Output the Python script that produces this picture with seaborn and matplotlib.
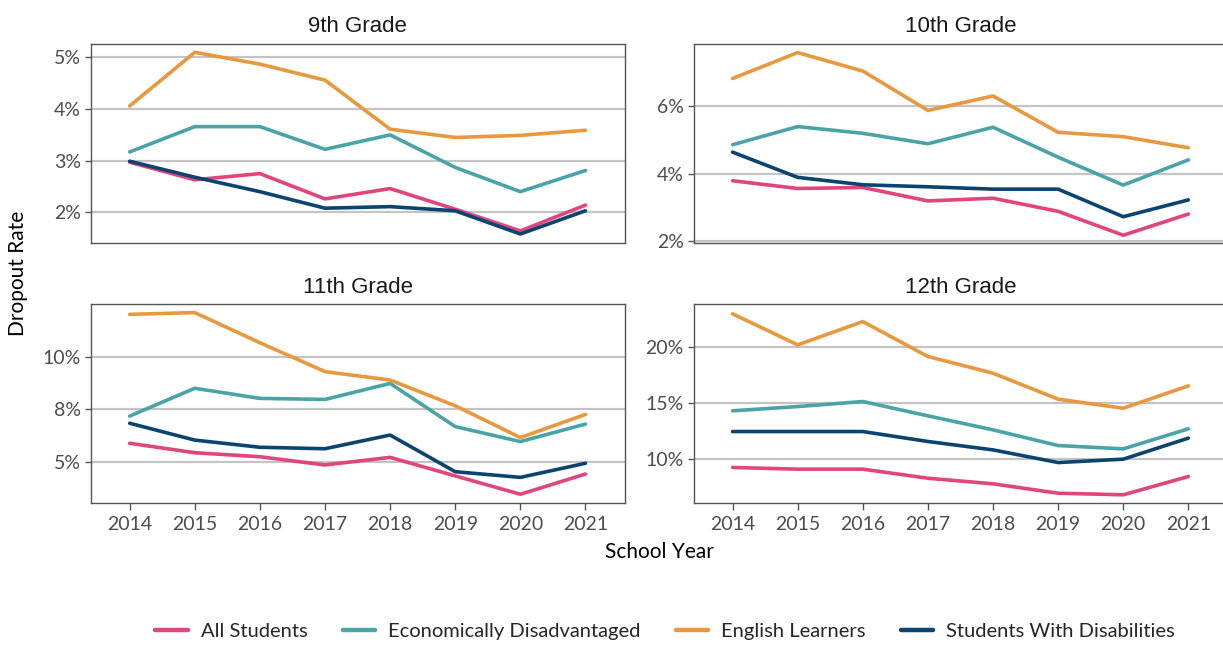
import numpy as np
import pandas as pd
import matplotlib
matplotlib.use("Agg")
import matplotlib.pyplot as plt
import seaborn as sns


# ---------------------------------------------------------------
# Data (dropout rate, %)
#
years  = [2014, 2015, 2016, 2017, 2018, 2019, 2020, 2021]
groups = ["All Students", "Economically Disadvantaged",
          "English Learners", "Students With Disabilities"]
grades = ["9th Grade", "10th Grade", "11th Grade", "12th Grade"]

g9_all  = [2.97, 2.63, 2.75, 2.26, 2.46, 2.06, 1.64, 2.14]
g9_eco  = [3.17, 3.66, 3.66, 3.22, 3.50, 2.87, 2.40, 2.81]
g9_el   = [4.06, 5.10, 4.87, 4.56, 3.61, 3.45, 3.49, 3.59]
g9_swd  = [2.99, 2.68, 2.40, 2.08, 2.11, 2.03, 1.58, 2.03]

g10_all = [3.79, 3.56, 3.59, 3.19, 3.27, 2.88, 2.17, 2.80]
g10_eco = [4.86, 5.40, 5.20, 4.89, 5.38, 4.49, 3.66, 4.41]
g10_el  = [6.83, 7.60, 7.05, 5.88, 6.31, 5.23, 5.10, 4.77]
g10_swd = [4.64, 3.89, 3.67, 3.61, 3.54, 3.54, 2.72, 3.22]

g11_all = [5.89, 5.44, 5.25, 4.86, 5.22, 4.34, 3.47, 4.43]
g11_eco = [7.18, 8.50, 8.02, 7.97, 8.73, 6.68, 5.97, 6.80]
g11_el  = [12.01, 12.09, 10.66, 9.29, 8.89, 7.67, 6.16, 7.26]
g11_swd = [6.84, 6.04, 5.70, 5.63, 6.28, 4.54, 4.27, 4.94]

g12_all = [9.20, 9.05, 9.05, 8.24, 7.74, 6.90, 6.76, 8.39]
g12_eco = [14.26, 14.64, 15.09, 13.81, 12.56, 11.16, 10.86, 12.65]
g12_el  = [22.92, 20.15, 22.23, 19.11, 17.62, 15.30, 14.49, 16.49]
g12_swd = [12.41, 12.41, 12.41, 11.52, 10.77, 9.64, 9.94, 11.82]

# y ticks and labels per panel (ggplot rounds 7.5% to "8%")
y_ticks  = [[2, 3, 4, 5], [2, 4, 6], [5, 7.5, 10], [10, 15, 20]]
y_labels = [["2%", "3%", "4%", "5%"], ["2%", "4%", "6%"],
            ["5%", "8%", "10%"], ["10%", "15%", "20%"]]
y_lims   = [(1.40, 5.27), (1.93, 7.87), (3.04, 12.5), (6.0, 23.8)]

colors = ["#E0457B", "#4AA3A6", "#E8993F", "#0B4470"]


# ---------------------------------------------------------------
# Long format
#
series = {
    "9th Grade":  [g9_all, g9_eco, g9_el, g9_swd],
    "10th Grade": [g10_all, g10_eco, g10_el, g10_swd],
    "11th Grade": [g11_all, g11_eco, g11_el, g11_swd],
    "12th Grade": [g12_all, g12_eco, g12_el, g12_swd],
}
rows = []
for grade in grades:
    for grp, vals in zip(groups, series[grade]):
        for yr, v in zip(years, vals):
            rows.append((grade, grp, yr, v))
df = pd.DataFrame(rows, columns=["Grade", "Group", "Year", "Rate"])


# ---------------------------------------------------------------
# Plot
#
sns.set_style("white")
plt.rcParams["font.family"] = ["Lato", "DejaVu Sans"]

W, H = 1223, 645
fig = plt.figure(figsize=(W / 100, H / 100), dpi=100)

left_x  = (90.6 / W, (624.5 - 90.6) / W)
right_x = (693.5 / W, (1227.4 - 693.5) / W)
top_y   = (1 - 243.3 / H, 199.8 / H)
bot_y   = (1 - 503.3 / H, 199.3 / H)
boxes = [
    [left_x[0], top_y[0], left_x[1], top_y[1]],
    [right_x[0], top_y[0], right_x[1], top_y[1]],
    [left_x[0], bot_y[0], left_x[1], bot_y[1]],
    [right_x[0], bot_y[0], right_x[1], bot_y[1]],
]

palette = dict(zip(groups, colors))

for i, grade in enumerate(grades):
    ax = fig.add_axes(boxes[i])
    sub = df[df["Grade"] == grade]
    sns.lineplot(data=sub, x="Year", y="Rate", hue="Group",
                 palette=palette, linewidth=2.6, ax=ax,
                 legend=False, zorder=3)

    ax.set_xlim(2013.4, 2021.6)
    ax.set_ylim(*y_lims[i])
    ax.set_yticks(y_ticks[i])
    ax.set_yticklabels(y_labels[i])
    ax.set_xticks(years)
    ax.grid(axis="y", color="#C4C4C4", linewidth=1.6, zorder=0)
    ax.grid(axis="x", visible=False)

    for s in ax.spines.values():
        s.set_color("#555555")
        s.set_linewidth(1.0)

    if i < 2:
        ax.tick_params(axis="x", bottom=False, labelbottom=False)
    else:
        ax.set_xticklabels([str(y) for y in years])
        ax.tick_params(axis="x", bottom=True, length=5, width=1,
                       color="#555555", labelsize=14, labelcolor="#4D4D4D",
                       pad=4)
    ax.tick_params(axis="y", left=True, length=4, width=1, color="#555555",
                   labelsize=14, labelcolor="#4D4D4D", pad=3)

    ax.set_xlabel("")
    ax.set_ylabel("")
    ax.set_title(grade, fontsize=16, family="Liberation Sans",
                 color="#1A1A1A", pad=8)

fig.text(18 / W, 1 - 273 / H, "Dropout Rate", rotation=90,
         ha="center", va="center", fontsize=15, color="black")
fig.text(659 / W, 1 - 552 / H, "School Year",
         ha="center", va="center", fontsize=15, color="black")

handles = [plt.Line2D([0], [0], color=c, linewidth=3.2) for c in colors]
fig.legend(handles, groups, loc="center", bbox_to_anchor=(665 / W, 1 - 631 / H),
           ncol=4, frameon=False, fontsize=14.5, handlelength=1.6,
           columnspacing=1.75, handletextpad=0.65)

fig.savefig("out.png", dpi=100)
